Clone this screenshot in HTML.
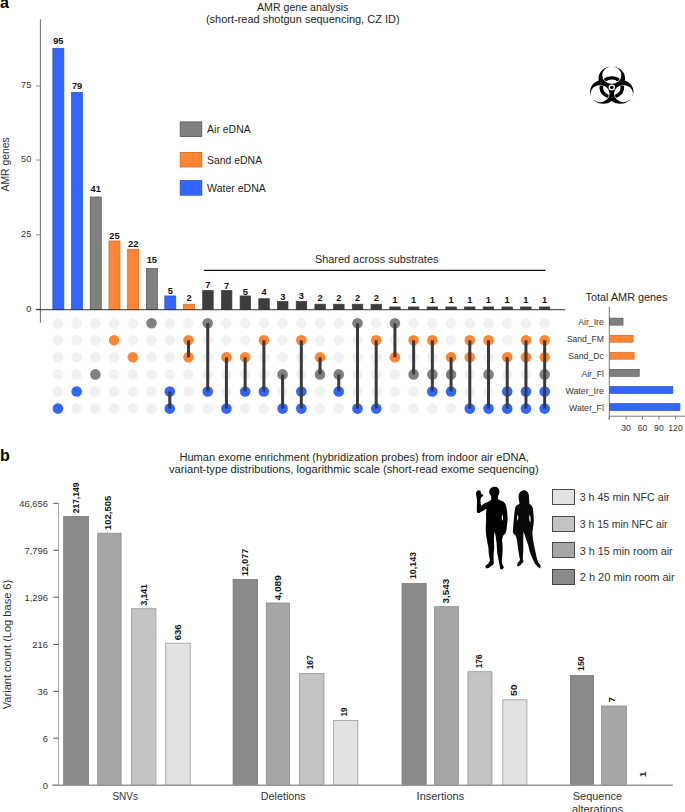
<!DOCTYPE html>
<html><head><meta charset="utf-8"><style>
html,body{margin:0;padding:0;background:#fff;}
svg{display:block;}
text{font-family:"Liberation Sans",sans-serif;}
</style></head><body>
<svg width="685" height="812" viewBox="0 0 685 812" font-family="Liberation Sans, sans-serif">
<rect width="685" height="812" fill="#fff"/>
<text x="0" y="8" font-size="16" text-anchor="start" font-weight="bold" fill="#000" >a</text>
<text x="257.00" y="10.9" font-size="10.6" text-anchor="start" fill="#231f20" textLength="91.4" lengthAdjust="spacingAndGlyphs">AMR gene analysis</text>
<text x="205.90" y="23" font-size="10.9" text-anchor="start" fill="#231f20" textLength="193.7" lengthAdjust="spacingAndGlyphs">(short-read shotgun sequencing, CZ ID)</text>
<line x1="40.40" y1="19.30" x2="40.40" y2="322.80" stroke="#6d6d6d" stroke-width="1"/>
<line x1="36.00" y1="86.00" x2="40.40" y2="86.00" stroke="#9a9a9a" stroke-width="1"/>
<text x="31.3" y="88.3" font-size="9.2" text-anchor="end" fill="#333" >75</text>
<line x1="36.00" y1="160.00" x2="40.40" y2="160.00" stroke="#9a9a9a" stroke-width="1"/>
<text x="31.3" y="162.3" font-size="9.2" text-anchor="end" fill="#333" >50</text>
<line x1="36.00" y1="234.80" x2="40.40" y2="234.80" stroke="#9a9a9a" stroke-width="1"/>
<text x="31.3" y="237.10000000000002" font-size="9.2" text-anchor="end" fill="#333" >25</text>
<line x1="36.00" y1="309.30" x2="40.40" y2="309.30" stroke="#555" stroke-width="1"/>
<text x="31.3" y="311.7" font-size="9.2" text-anchor="end" fill="#333" >0</text>
<text transform="translate(9.2 191.5) rotate(-90)" font-size="10.4" fill="#333" textLength="54.3" lengthAdjust="spacingAndGlyphs">AMR genes</text>
<rect x="52.85" y="48.45" width="11.00" height="261.25" fill="#3366ff" stroke="#2a4fc0" stroke-width="0.7"/>
<text x="58.35" y="44.00" font-size="9.3" text-anchor="middle" font-weight="bold" fill="#111" >95</text>
<rect x="71.55" y="92.45" width="11.00" height="217.25" fill="#3366ff" stroke="#2a4fc0" stroke-width="0.7"/>
<text x="77.05" y="88.80" font-size="9.3" text-anchor="middle" font-weight="bold" fill="#111" >79</text>
<rect x="90.25" y="196.95" width="11.00" height="112.75" fill="#808080" stroke="#555555" stroke-width="0.7"/>
<text x="95.75" y="192.00" font-size="9.3" text-anchor="middle" font-weight="bold" fill="#111" >41</text>
<rect x="108.95" y="240.95" width="11.00" height="68.75" fill="#ff8533" stroke="#c96a2a" stroke-width="0.7"/>
<text x="114.45" y="238.70" font-size="9.3" text-anchor="middle" font-weight="bold" fill="#111" >25</text>
<rect x="127.65" y="249.20" width="11.00" height="60.50" fill="#ff8533" stroke="#c96a2a" stroke-width="0.7"/>
<text x="133.15" y="246.80" font-size="9.3" text-anchor="middle" font-weight="bold" fill="#111" >22</text>
<rect x="146.35" y="268.45" width="11.00" height="41.25" fill="#808080" stroke="#555555" stroke-width="0.7"/>
<text x="151.85" y="262.80" font-size="9.3" text-anchor="middle" font-weight="bold" fill="#111" >15</text>
<rect x="164.80" y="295.95" width="11.00" height="13.75" fill="#3366ff" stroke="#2a4fc0" stroke-width="0.7"/>
<text x="170.30" y="294.00" font-size="9.3" text-anchor="middle" font-weight="bold" fill="#111" >5</text>
<rect x="183.50" y="304.20" width="11.00" height="5.50" fill="#ff8533" stroke="#c96a2a" stroke-width="0.7"/>
<text x="189.00" y="301.00" font-size="9.3" text-anchor="middle" font-weight="bold" fill="#111" >2</text>
<rect x="202.70" y="290.45" width="10.50" height="19.25" fill="#3d3d3d" stroke="#3d3d3d" stroke-width="0.7"/>
<text x="207.95" y="288.10" font-size="9.3" text-anchor="middle" font-weight="bold" fill="#111" >7</text>
<rect x="221.40" y="290.45" width="10.50" height="19.25" fill="#3d3d3d" stroke="#3d3d3d" stroke-width="0.7"/>
<text x="226.65" y="288.80" font-size="9.3" text-anchor="middle" font-weight="bold" fill="#111" >7</text>
<rect x="240.10" y="295.95" width="10.50" height="13.75" fill="#3d3d3d" stroke="#3d3d3d" stroke-width="0.7"/>
<text x="245.35" y="295.10" font-size="9.3" text-anchor="middle" font-weight="bold" fill="#111" >5</text>
<rect x="258.80" y="298.70" width="10.50" height="11.00" fill="#3d3d3d" stroke="#3d3d3d" stroke-width="0.7"/>
<text x="264.05" y="295.10" font-size="9.3" text-anchor="middle" font-weight="bold" fill="#111" >4</text>
<rect x="277.50" y="301.45" width="10.50" height="8.25" fill="#3d3d3d" stroke="#3d3d3d" stroke-width="0.7"/>
<text x="282.75" y="299.90" font-size="9.3" text-anchor="middle" font-weight="bold" fill="#111" >3</text>
<rect x="296.20" y="301.45" width="10.50" height="8.25" fill="#3d3d3d" stroke="#3d3d3d" stroke-width="0.7"/>
<text x="301.45" y="299.30" font-size="9.3" text-anchor="middle" font-weight="bold" fill="#111" >3</text>
<rect x="314.90" y="304.20" width="10.50" height="5.50" fill="#3d3d3d" stroke="#3d3d3d" stroke-width="0.7"/>
<text x="320.15" y="300.80" font-size="9.3" text-anchor="middle" font-weight="bold" fill="#111" >2</text>
<rect x="333.60" y="304.20" width="10.50" height="5.50" fill="#3d3d3d" stroke="#3d3d3d" stroke-width="0.7"/>
<text x="338.85" y="300.80" font-size="9.3" text-anchor="middle" font-weight="bold" fill="#111" >2</text>
<rect x="352.30" y="304.20" width="10.50" height="5.50" fill="#3d3d3d" stroke="#3d3d3d" stroke-width="0.7"/>
<text x="357.55" y="300.80" font-size="9.3" text-anchor="middle" font-weight="bold" fill="#111" >2</text>
<rect x="371.00" y="304.20" width="10.50" height="5.50" fill="#3d3d3d" stroke="#3d3d3d" stroke-width="0.7"/>
<text x="376.25" y="300.80" font-size="9.3" text-anchor="middle" font-weight="bold" fill="#111" >2</text>
<rect x="389.70" y="306.95" width="10.50" height="2.75" fill="#3d3d3d" stroke="#3d3d3d" stroke-width="0.7"/>
<text x="394.95" y="303.40" font-size="9.3" text-anchor="middle" font-weight="bold" fill="#111" >1</text>
<rect x="408.40" y="306.95" width="10.50" height="2.75" fill="#3d3d3d" stroke="#3d3d3d" stroke-width="0.7"/>
<text x="413.65" y="303.40" font-size="9.3" text-anchor="middle" font-weight="bold" fill="#111" >1</text>
<rect x="427.10" y="306.95" width="10.50" height="2.75" fill="#3d3d3d" stroke="#3d3d3d" stroke-width="0.7"/>
<text x="432.35" y="303.40" font-size="9.3" text-anchor="middle" font-weight="bold" fill="#111" >1</text>
<rect x="445.80" y="306.95" width="10.50" height="2.75" fill="#3d3d3d" stroke="#3d3d3d" stroke-width="0.7"/>
<text x="451.05" y="303.40" font-size="9.3" text-anchor="middle" font-weight="bold" fill="#111" >1</text>
<rect x="464.50" y="306.95" width="10.50" height="2.75" fill="#3d3d3d" stroke="#3d3d3d" stroke-width="0.7"/>
<text x="469.75" y="303.40" font-size="9.3" text-anchor="middle" font-weight="bold" fill="#111" >1</text>
<rect x="483.20" y="306.95" width="10.50" height="2.75" fill="#3d3d3d" stroke="#3d3d3d" stroke-width="0.7"/>
<text x="488.45" y="303.40" font-size="9.3" text-anchor="middle" font-weight="bold" fill="#111" >1</text>
<rect x="501.90" y="306.95" width="10.50" height="2.75" fill="#3d3d3d" stroke="#3d3d3d" stroke-width="0.7"/>
<text x="507.15" y="303.40" font-size="9.3" text-anchor="middle" font-weight="bold" fill="#111" >1</text>
<rect x="520.60" y="306.95" width="10.50" height="2.75" fill="#3d3d3d" stroke="#3d3d3d" stroke-width="0.7"/>
<text x="525.85" y="303.40" font-size="9.3" text-anchor="middle" font-weight="bold" fill="#111" >1</text>
<rect x="539.30" y="306.95" width="10.50" height="2.75" fill="#3d3d3d" stroke="#3d3d3d" stroke-width="0.7"/>
<text x="544.55" y="303.40" font-size="9.3" text-anchor="middle" font-weight="bold" fill="#111" >1</text>
<line x1="36.00" y1="309.70" x2="565.30" y2="309.70" stroke="#333" stroke-width="1"/>
<line x1="203.80" y1="270.30" x2="545.50" y2="270.30" stroke="#111" stroke-width="1.3"/>
<text x="315.00" y="262.5" font-size="10.85" text-anchor="start" fill="#231f20" textLength="123.4" lengthAdjust="spacingAndGlyphs">Shared across substrates</text>
<rect x="180.20" y="121.90" width="21.60" height="14.60" fill="#808080" stroke="#555555" stroke-width="0.8"/>
<text x="207.10" y="133.20000000000002" font-size="10.5" text-anchor="start" fill="#231f20" textLength="43.6" lengthAdjust="spacingAndGlyphs">Air eDNA</text>
<rect x="180.20" y="152.40" width="21.60" height="14.60" fill="#ff8533" stroke="#c96a2a" stroke-width="0.8"/>
<text x="207.10" y="163.70000000000002" font-size="10.5" text-anchor="start" fill="#231f20" textLength="55.0" lengthAdjust="spacingAndGlyphs">Sand eDNA</text>
<rect x="180.20" y="180.60" width="21.60" height="14.60" fill="#3366ff" stroke="#2a4fc0" stroke-width="0.8"/>
<text x="207.10" y="191.9" font-size="10.5" text-anchor="start" fill="#231f20" textLength="58.8" lengthAdjust="spacingAndGlyphs">Water eDNA</text>
<circle cx="57.95" cy="323.20" r="5.3" fill="#f1f1f1"/>
<circle cx="57.95" cy="340.30" r="5.3" fill="#f1f1f1"/>
<circle cx="57.95" cy="357.30" r="5.3" fill="#f1f1f1"/>
<circle cx="57.95" cy="374.40" r="5.3" fill="#f1f1f1"/>
<circle cx="57.95" cy="391.50" r="5.3" fill="#f1f1f1"/>
<circle cx="57.95" cy="408.60" r="5.3" fill="#3366ff"/>
<circle cx="76.67" cy="323.20" r="5.3" fill="#f1f1f1"/>
<circle cx="76.67" cy="340.30" r="5.3" fill="#f1f1f1"/>
<circle cx="76.67" cy="357.30" r="5.3" fill="#f1f1f1"/>
<circle cx="76.67" cy="374.40" r="5.3" fill="#f1f1f1"/>
<circle cx="76.67" cy="391.50" r="5.3" fill="#3366ff"/>
<circle cx="76.67" cy="408.60" r="5.3" fill="#f1f1f1"/>
<circle cx="95.39" cy="323.20" r="5.3" fill="#f1f1f1"/>
<circle cx="95.39" cy="340.30" r="5.3" fill="#f1f1f1"/>
<circle cx="95.39" cy="357.30" r="5.3" fill="#f1f1f1"/>
<circle cx="95.39" cy="374.40" r="5.3" fill="#808080"/>
<circle cx="95.39" cy="391.50" r="5.3" fill="#f1f1f1"/>
<circle cx="95.39" cy="408.60" r="5.3" fill="#f1f1f1"/>
<circle cx="114.11" cy="323.20" r="5.3" fill="#f1f1f1"/>
<circle cx="114.11" cy="340.30" r="5.3" fill="#ff8533"/>
<circle cx="114.11" cy="357.30" r="5.3" fill="#f1f1f1"/>
<circle cx="114.11" cy="374.40" r="5.3" fill="#f1f1f1"/>
<circle cx="114.11" cy="391.50" r="5.3" fill="#f1f1f1"/>
<circle cx="114.11" cy="408.60" r="5.3" fill="#f1f1f1"/>
<circle cx="132.83" cy="323.20" r="5.3" fill="#f1f1f1"/>
<circle cx="132.83" cy="340.30" r="5.3" fill="#f1f1f1"/>
<circle cx="132.83" cy="357.30" r="5.3" fill="#ff8533"/>
<circle cx="132.83" cy="374.40" r="5.3" fill="#f1f1f1"/>
<circle cx="132.83" cy="391.50" r="5.3" fill="#f1f1f1"/>
<circle cx="132.83" cy="408.60" r="5.3" fill="#f1f1f1"/>
<circle cx="151.55" cy="323.20" r="5.3" fill="#808080"/>
<circle cx="151.55" cy="340.30" r="5.3" fill="#f1f1f1"/>
<circle cx="151.55" cy="357.30" r="5.3" fill="#f1f1f1"/>
<circle cx="151.55" cy="374.40" r="5.3" fill="#f1f1f1"/>
<circle cx="151.55" cy="391.50" r="5.3" fill="#f1f1f1"/>
<circle cx="151.55" cy="408.60" r="5.3" fill="#f1f1f1"/>
<circle cx="169.77" cy="323.20" r="5.3" fill="#f1f1f1"/>
<circle cx="169.77" cy="340.30" r="5.3" fill="#f1f1f1"/>
<circle cx="169.77" cy="357.30" r="5.3" fill="#f1f1f1"/>
<circle cx="169.77" cy="374.40" r="5.3" fill="#f1f1f1"/>
<circle cx="169.77" cy="391.50" r="5.3" fill="#3366ff"/>
<circle cx="169.77" cy="408.60" r="5.3" fill="#3366ff"/>
<line x1="169.77" y1="391.50" x2="169.77" y2="408.60" stroke="#3a3a3a" stroke-width="3"/>
<circle cx="188.49" cy="323.20" r="5.3" fill="#f1f1f1"/>
<circle cx="188.49" cy="340.30" r="5.3" fill="#ff8533"/>
<circle cx="188.49" cy="357.30" r="5.3" fill="#ff8533"/>
<circle cx="188.49" cy="374.40" r="5.3" fill="#f1f1f1"/>
<circle cx="188.49" cy="391.50" r="5.3" fill="#f1f1f1"/>
<circle cx="188.49" cy="408.60" r="5.3" fill="#f1f1f1"/>
<line x1="188.49" y1="340.30" x2="188.49" y2="357.30" stroke="#3a3a3a" stroke-width="3"/>
<circle cx="207.71" cy="323.20" r="5.3" fill="#808080"/>
<circle cx="207.71" cy="340.30" r="5.3" fill="#f1f1f1"/>
<circle cx="207.71" cy="357.30" r="5.3" fill="#f1f1f1"/>
<circle cx="207.71" cy="374.40" r="5.3" fill="#f1f1f1"/>
<circle cx="207.71" cy="391.50" r="5.3" fill="#3366ff"/>
<circle cx="207.71" cy="408.60" r="5.3" fill="#f1f1f1"/>
<line x1="207.71" y1="323.20" x2="207.71" y2="391.50" stroke="#3a3a3a" stroke-width="3"/>
<circle cx="226.43" cy="323.20" r="5.3" fill="#f1f1f1"/>
<circle cx="226.43" cy="340.30" r="5.3" fill="#f1f1f1"/>
<circle cx="226.43" cy="357.30" r="5.3" fill="#ff8533"/>
<circle cx="226.43" cy="374.40" r="5.3" fill="#f1f1f1"/>
<circle cx="226.43" cy="391.50" r="5.3" fill="#f1f1f1"/>
<circle cx="226.43" cy="408.60" r="5.3" fill="#3366ff"/>
<line x1="226.43" y1="357.30" x2="226.43" y2="408.60" stroke="#3a3a3a" stroke-width="3"/>
<circle cx="245.15" cy="323.20" r="5.3" fill="#f1f1f1"/>
<circle cx="245.15" cy="340.30" r="5.3" fill="#f1f1f1"/>
<circle cx="245.15" cy="357.30" r="5.3" fill="#ff8533"/>
<circle cx="245.15" cy="374.40" r="5.3" fill="#f1f1f1"/>
<circle cx="245.15" cy="391.50" r="5.3" fill="#3366ff"/>
<circle cx="245.15" cy="408.60" r="5.3" fill="#f1f1f1"/>
<line x1="245.15" y1="357.30" x2="245.15" y2="391.50" stroke="#3a3a3a" stroke-width="3"/>
<circle cx="263.87" cy="323.20" r="5.3" fill="#f1f1f1"/>
<circle cx="263.87" cy="340.30" r="5.3" fill="#ff8533"/>
<circle cx="263.87" cy="357.30" r="5.3" fill="#f1f1f1"/>
<circle cx="263.87" cy="374.40" r="5.3" fill="#f1f1f1"/>
<circle cx="263.87" cy="391.50" r="5.3" fill="#3366ff"/>
<circle cx="263.87" cy="408.60" r="5.3" fill="#f1f1f1"/>
<line x1="263.87" y1="340.30" x2="263.87" y2="391.50" stroke="#3a3a3a" stroke-width="3"/>
<circle cx="282.59" cy="323.20" r="5.3" fill="#f1f1f1"/>
<circle cx="282.59" cy="340.30" r="5.3" fill="#f1f1f1"/>
<circle cx="282.59" cy="357.30" r="5.3" fill="#f1f1f1"/>
<circle cx="282.59" cy="374.40" r="5.3" fill="#808080"/>
<circle cx="282.59" cy="391.50" r="5.3" fill="#f1f1f1"/>
<circle cx="282.59" cy="408.60" r="5.3" fill="#3366ff"/>
<line x1="282.59" y1="374.40" x2="282.59" y2="408.60" stroke="#3a3a3a" stroke-width="3"/>
<circle cx="301.31" cy="323.20" r="5.3" fill="#f1f1f1"/>
<circle cx="301.31" cy="340.30" r="5.3" fill="#ff8533"/>
<circle cx="301.31" cy="357.30" r="5.3" fill="#f1f1f1"/>
<circle cx="301.31" cy="374.40" r="5.3" fill="#f1f1f1"/>
<circle cx="301.31" cy="391.50" r="5.3" fill="#3366ff"/>
<circle cx="301.31" cy="408.60" r="5.3" fill="#3366ff"/>
<line x1="301.31" y1="340.30" x2="301.31" y2="408.60" stroke="#3a3a3a" stroke-width="3"/>
<circle cx="320.03" cy="323.20" r="5.3" fill="#f1f1f1"/>
<circle cx="320.03" cy="340.30" r="5.3" fill="#f1f1f1"/>
<circle cx="320.03" cy="357.30" r="5.3" fill="#ff8533"/>
<circle cx="320.03" cy="374.40" r="5.3" fill="#808080"/>
<circle cx="320.03" cy="391.50" r="5.3" fill="#f1f1f1"/>
<circle cx="320.03" cy="408.60" r="5.3" fill="#f1f1f1"/>
<line x1="320.03" y1="357.30" x2="320.03" y2="374.40" stroke="#3a3a3a" stroke-width="3"/>
<circle cx="338.75" cy="323.20" r="5.3" fill="#f1f1f1"/>
<circle cx="338.75" cy="340.30" r="5.3" fill="#f1f1f1"/>
<circle cx="338.75" cy="357.30" r="5.3" fill="#f1f1f1"/>
<circle cx="338.75" cy="374.40" r="5.3" fill="#808080"/>
<circle cx="338.75" cy="391.50" r="5.3" fill="#3366ff"/>
<circle cx="338.75" cy="408.60" r="5.3" fill="#f1f1f1"/>
<line x1="338.75" y1="374.40" x2="338.75" y2="391.50" stroke="#3a3a3a" stroke-width="3"/>
<circle cx="357.47" cy="323.20" r="5.3" fill="#808080"/>
<circle cx="357.47" cy="340.30" r="5.3" fill="#f1f1f1"/>
<circle cx="357.47" cy="357.30" r="5.3" fill="#f1f1f1"/>
<circle cx="357.47" cy="374.40" r="5.3" fill="#f1f1f1"/>
<circle cx="357.47" cy="391.50" r="5.3" fill="#f1f1f1"/>
<circle cx="357.47" cy="408.60" r="5.3" fill="#3366ff"/>
<line x1="357.47" y1="323.20" x2="357.47" y2="408.60" stroke="#3a3a3a" stroke-width="3"/>
<circle cx="376.19" cy="323.20" r="5.3" fill="#f1f1f1"/>
<circle cx="376.19" cy="340.30" r="5.3" fill="#ff8533"/>
<circle cx="376.19" cy="357.30" r="5.3" fill="#f1f1f1"/>
<circle cx="376.19" cy="374.40" r="5.3" fill="#f1f1f1"/>
<circle cx="376.19" cy="391.50" r="5.3" fill="#f1f1f1"/>
<circle cx="376.19" cy="408.60" r="5.3" fill="#3366ff"/>
<line x1="376.19" y1="340.30" x2="376.19" y2="408.60" stroke="#3a3a3a" stroke-width="3"/>
<circle cx="394.91" cy="323.20" r="5.3" fill="#808080"/>
<circle cx="394.91" cy="340.30" r="5.3" fill="#f1f1f1"/>
<circle cx="394.91" cy="357.30" r="5.3" fill="#ff8533"/>
<circle cx="394.91" cy="374.40" r="5.3" fill="#f1f1f1"/>
<circle cx="394.91" cy="391.50" r="5.3" fill="#f1f1f1"/>
<circle cx="394.91" cy="408.60" r="5.3" fill="#f1f1f1"/>
<line x1="394.91" y1="323.20" x2="394.91" y2="357.30" stroke="#3a3a3a" stroke-width="3"/>
<circle cx="413.63" cy="323.20" r="5.3" fill="#f1f1f1"/>
<circle cx="413.63" cy="340.30" r="5.3" fill="#ff8533"/>
<circle cx="413.63" cy="357.30" r="5.3" fill="#f1f1f1"/>
<circle cx="413.63" cy="374.40" r="5.3" fill="#808080"/>
<circle cx="413.63" cy="391.50" r="5.3" fill="#f1f1f1"/>
<circle cx="413.63" cy="408.60" r="5.3" fill="#f1f1f1"/>
<line x1="413.63" y1="340.30" x2="413.63" y2="374.40" stroke="#3a3a3a" stroke-width="3"/>
<circle cx="432.35" cy="323.20" r="5.3" fill="#f1f1f1"/>
<circle cx="432.35" cy="340.30" r="5.3" fill="#ff8533"/>
<circle cx="432.35" cy="357.30" r="5.3" fill="#f1f1f1"/>
<circle cx="432.35" cy="374.40" r="5.3" fill="#808080"/>
<circle cx="432.35" cy="391.50" r="5.3" fill="#3366ff"/>
<circle cx="432.35" cy="408.60" r="5.3" fill="#f1f1f1"/>
<line x1="432.35" y1="340.30" x2="432.35" y2="391.50" stroke="#3a3a3a" stroke-width="3"/>
<circle cx="451.07" cy="323.20" r="5.3" fill="#f1f1f1"/>
<circle cx="451.07" cy="340.30" r="5.3" fill="#f1f1f1"/>
<circle cx="451.07" cy="357.30" r="5.3" fill="#ff8533"/>
<circle cx="451.07" cy="374.40" r="5.3" fill="#808080"/>
<circle cx="451.07" cy="391.50" r="5.3" fill="#3366ff"/>
<circle cx="451.07" cy="408.60" r="5.3" fill="#f1f1f1"/>
<line x1="451.07" y1="357.30" x2="451.07" y2="391.50" stroke="#3a3a3a" stroke-width="3"/>
<circle cx="469.79" cy="323.20" r="5.3" fill="#f1f1f1"/>
<circle cx="469.79" cy="340.30" r="5.3" fill="#ff8533"/>
<circle cx="469.79" cy="357.30" r="5.3" fill="#ff8533"/>
<circle cx="469.79" cy="374.40" r="5.3" fill="#f1f1f1"/>
<circle cx="469.79" cy="391.50" r="5.3" fill="#f1f1f1"/>
<circle cx="469.79" cy="408.60" r="5.3" fill="#3366ff"/>
<line x1="469.79" y1="340.30" x2="469.79" y2="408.60" stroke="#3a3a3a" stroke-width="3"/>
<circle cx="488.51" cy="323.20" r="5.3" fill="#f1f1f1"/>
<circle cx="488.51" cy="340.30" r="5.3" fill="#ff8533"/>
<circle cx="488.51" cy="357.30" r="5.3" fill="#f1f1f1"/>
<circle cx="488.51" cy="374.40" r="5.3" fill="#808080"/>
<circle cx="488.51" cy="391.50" r="5.3" fill="#f1f1f1"/>
<circle cx="488.51" cy="408.60" r="5.3" fill="#3366ff"/>
<line x1="488.51" y1="340.30" x2="488.51" y2="408.60" stroke="#3a3a3a" stroke-width="3"/>
<circle cx="507.23" cy="323.20" r="5.3" fill="#f1f1f1"/>
<circle cx="507.23" cy="340.30" r="5.3" fill="#f1f1f1"/>
<circle cx="507.23" cy="357.30" r="5.3" fill="#ff8533"/>
<circle cx="507.23" cy="374.40" r="5.3" fill="#f1f1f1"/>
<circle cx="507.23" cy="391.50" r="5.3" fill="#3366ff"/>
<circle cx="507.23" cy="408.60" r="5.3" fill="#3366ff"/>
<line x1="507.23" y1="357.30" x2="507.23" y2="408.60" stroke="#3a3a3a" stroke-width="3"/>
<circle cx="525.95" cy="323.20" r="5.3" fill="#f1f1f1"/>
<circle cx="525.95" cy="340.30" r="5.3" fill="#ff8533"/>
<circle cx="525.95" cy="357.30" r="5.3" fill="#ff8533"/>
<circle cx="525.95" cy="374.40" r="5.3" fill="#f1f1f1"/>
<circle cx="525.95" cy="391.50" r="5.3" fill="#3366ff"/>
<circle cx="525.95" cy="408.60" r="5.3" fill="#3366ff"/>
<line x1="525.95" y1="340.30" x2="525.95" y2="408.60" stroke="#3a3a3a" stroke-width="3"/>
<circle cx="544.67" cy="323.20" r="5.3" fill="#f1f1f1"/>
<circle cx="544.67" cy="340.30" r="5.3" fill="#ff8533"/>
<circle cx="544.67" cy="357.30" r="5.3" fill="#ff8533"/>
<circle cx="544.67" cy="374.40" r="5.3" fill="#808080"/>
<circle cx="544.67" cy="391.50" r="5.3" fill="#3366ff"/>
<circle cx="544.67" cy="408.60" r="5.3" fill="#3366ff"/>
<line x1="544.67" y1="340.30" x2="544.67" y2="408.60" stroke="#3a3a3a" stroke-width="3"/>
<text x="585.60" y="301.2" font-size="10.7" text-anchor="start" fill="#231f20" textLength="81.9" lengthAdjust="spacingAndGlyphs">Total AMR genes</text>
<line x1="609.30" y1="306.90" x2="609.30" y2="419.50" stroke="#777" stroke-width="1"/>
<line x1="609.30" y1="416.20" x2="685.00" y2="416.20" stroke="#777" stroke-width="1"/>
<line x1="626.10" y1="416.20" x2="626.10" y2="419.50" stroke="#777" stroke-width="1"/>
<text x="626.1" y="431.4" font-size="8.6" text-anchor="middle" fill="#333" >30</text>
<line x1="642.50" y1="416.20" x2="642.50" y2="419.50" stroke="#777" stroke-width="1"/>
<text x="642.5" y="431.4" font-size="8.6" text-anchor="middle" fill="#333" >60</text>
<line x1="658.90" y1="416.20" x2="658.90" y2="419.50" stroke="#777" stroke-width="1"/>
<text x="658.9" y="431.4" font-size="8.6" text-anchor="middle" fill="#333" >90</text>
<line x1="675.50" y1="416.20" x2="675.50" y2="419.50" stroke="#777" stroke-width="1"/>
<text x="675.5" y="431.4" font-size="8.6" text-anchor="middle" fill="#333" >120</text>
<line x1="609.30" y1="416.20" x2="609.30" y2="419.50" stroke="#777" stroke-width="1"/>
<rect x="609.80" y="318.20" width="13.20" height="6.90" fill="#808080" stroke="#555555" stroke-width="0.7"/>
<text x="578.30" y="325.30" font-size="9.0" text-anchor="start" fill="#333" textLength="25.5" lengthAdjust="spacingAndGlyphs">Air_Ire</text>
<rect x="609.80" y="335.30" width="23.20" height="6.90" fill="#ff8533" stroke="#c96a2a" stroke-width="0.7"/>
<text x="566.90" y="342.40" font-size="9.0" text-anchor="start" fill="#333" textLength="36.9" lengthAdjust="spacingAndGlyphs">Sand_FM</text>
<rect x="609.80" y="352.30" width="24.30" height="6.90" fill="#ff8533" stroke="#c96a2a" stroke-width="0.7"/>
<text x="568.20" y="359.40" font-size="9.0" text-anchor="start" fill="#333" textLength="35.6" lengthAdjust="spacingAndGlyphs">Sand_Dc</text>
<rect x="609.80" y="369.40" width="29.40" height="6.90" fill="#808080" stroke="#555555" stroke-width="0.7"/>
<text x="581.50" y="376.50" font-size="9.0" text-anchor="start" fill="#333" textLength="22.3" lengthAdjust="spacingAndGlyphs">Air_Fl</text>
<rect x="609.80" y="386.50" width="63.00" height="6.90" fill="#3366ff" stroke="#2a4fc0" stroke-width="0.7"/>
<text x="565.50" y="393.60" font-size="9.0" text-anchor="start" fill="#333" textLength="38.3" lengthAdjust="spacingAndGlyphs">Water_Ire</text>
<rect x="609.80" y="403.60" width="70.10" height="6.90" fill="#3366ff" stroke="#2a4fc0" stroke-width="0.7"/>
<text x="569.10" y="410.70" font-size="9.0" text-anchor="start" fill="#333" textLength="34.7" lengthAdjust="spacingAndGlyphs">Water_Fl</text>
<g transform="translate(611.8 87.4) scale(0.885 0.8)">
<defs><clipPath id="ic">
<circle cx="0.000" cy="-15.000" r="9.8"/>
<circle cx="12.990" cy="7.500" r="9.8"/>
<circle cx="-12.990" cy="7.500" r="9.8"/>
</clipPath></defs>
<circle cx="0.000" cy="-11.000" r="15" fill="#000"/>
<circle cx="9.526" cy="5.500" r="15" fill="#000"/>
<circle cx="-9.526" cy="5.500" r="15" fill="#000"/>
<circle cx="0.000" cy="-15.300" r="10.77" fill="#fff"/>
<circle cx="13.250" cy="7.650" r="10.77" fill="#fff"/>
<circle cx="-13.250" cy="7.650" r="10.77" fill="#fff"/>
<circle cx="0" cy="0" r="11.9" fill="none" stroke="#000" stroke-width="4" clip-path="url(#ic)"/>
<rect x="-2.4" y="-28" width="4.8" height="5.5" fill="#fff" transform="rotate(0)"/>
<rect x="-2.4" y="-28" width="4.8" height="5.5" fill="#fff" transform="rotate(120)"/>
<rect x="-2.4" y="-28" width="4.8" height="5.5" fill="#fff" transform="rotate(240)"/>
<circle cx="0" cy="0" r="3.6" fill="#fff"/>
<circle cx="0" cy="0" r="2.1" fill="#000"/>
</g>
<text x="0" y="460.7" font-size="16" text-anchor="start" font-weight="bold" fill="#000" >b</text>
<text x="179.40" y="460.8" font-size="11.05" text-anchor="start" fill="#231f20" textLength="349.5" lengthAdjust="spacingAndGlyphs">Human exome enrichment (hybridization probes) from indoor air eDNA,</text>
<text x="168.90" y="472.6" font-size="11.18" text-anchor="start" fill="#231f20" textLength="369.8" lengthAdjust="spacingAndGlyphs">variant-type distributions, logarithmic scale (short-read exome sequencing)</text>
<line x1="58.50" y1="503.30" x2="58.50" y2="785.30" stroke="#a8a8a8" stroke-width="1"/>
<line x1="53.20" y1="503.30" x2="58.50" y2="503.30" stroke="#555" stroke-width="1"/>
<text x="47.9" y="507.0" font-size="9.4" text-anchor="end" fill="#333" >46,656</text>
<line x1="53.20" y1="550.30" x2="58.50" y2="550.30" stroke="#555" stroke-width="1"/>
<text x="47.9" y="554.0" font-size="9.4" text-anchor="end" fill="#333" >7,796</text>
<line x1="53.20" y1="597.20" x2="58.50" y2="597.20" stroke="#555" stroke-width="1"/>
<text x="47.9" y="600.9000000000001" font-size="9.4" text-anchor="end" fill="#333" >1,296</text>
<line x1="53.20" y1="644.50" x2="58.50" y2="644.50" stroke="#555" stroke-width="1"/>
<text x="47.9" y="648.2" font-size="9.4" text-anchor="end" fill="#333" >216</text>
<line x1="53.20" y1="691.30" x2="58.50" y2="691.30" stroke="#555" stroke-width="1"/>
<text x="47.9" y="695.0" font-size="9.4" text-anchor="end" fill="#333" >36</text>
<line x1="53.20" y1="738.20" x2="58.50" y2="738.20" stroke="#555" stroke-width="1"/>
<text x="47.9" y="741.9000000000001" font-size="9.4" text-anchor="end" fill="#333" >6</text>
<line x1="53.20" y1="785.20" x2="58.50" y2="785.20" stroke="#555" stroke-width="1"/>
<text x="47.9" y="788.9000000000001" font-size="9.4" text-anchor="end" fill="#333" >0</text>
<text transform="translate(11.3 709.2) rotate(-90)" font-size="11" fill="#333" textLength="129.4" lengthAdjust="spacingAndGlyphs">Variant count (Log base 6)</text>
<rect x="63.70" y="516.50" width="24.90" height="268.70" fill="#8a8a8a" stroke="#777777" stroke-width="0.8"/>
<text transform="translate(79.00 513.30) rotate(-90)" font-size="9.8" font-weight="bold" fill="#111" textLength="30.7" lengthAdjust="spacingAndGlyphs">217,149</text>
<rect x="97.70" y="533.20" width="23.40" height="252.00" fill="#a6a6a6" stroke="#8c8c8c" stroke-width="0.8"/>
<text transform="translate(111.40 530.00) rotate(-90)" font-size="9.8" font-weight="bold" fill="#111" textLength="34.2" lengthAdjust="spacingAndGlyphs">102,505</text>
<rect x="131.40" y="608.70" width="24.50" height="176.50" fill="#c4c4c4" stroke="#9a9a9a" stroke-width="0.8"/>
<text transform="translate(146.50 605.60) rotate(-90)" font-size="9.8" font-weight="bold" fill="#111" textLength="21.3" lengthAdjust="spacingAndGlyphs">3,141</text>
<rect x="165.70" y="643.20" width="24.50" height="142.00" fill="#e2e2e2" stroke="#9a9a9a" stroke-width="0.8"/>
<text transform="translate(180.60 640.30) rotate(-90)" font-size="9.8" font-weight="bold" fill="#111" textLength="16" lengthAdjust="spacingAndGlyphs">636</text>
<rect x="233.10" y="579.40" width="24.50" height="205.80" fill="#8a8a8a" stroke="#777777" stroke-width="0.8"/>
<text transform="translate(247.50 576.10) rotate(-90)" font-size="9.8" font-weight="bold" fill="#111" textLength="27.2" lengthAdjust="spacingAndGlyphs">12,077</text>
<rect x="266.30" y="603.00" width="23.30" height="182.20" fill="#a6a6a6" stroke="#8c8c8c" stroke-width="0.8"/>
<text transform="translate(280.60 600.60) rotate(-90)" font-size="9.8" font-weight="bold" fill="#111" textLength="25.6" lengthAdjust="spacingAndGlyphs">4,089</text>
<rect x="299.50" y="673.40" width="24.50" height="111.80" fill="#c4c4c4" stroke="#9a9a9a" stroke-width="0.8"/>
<text transform="translate(313.40 669.30) rotate(-90)" font-size="9.8" font-weight="bold" fill="#111" textLength="14" lengthAdjust="spacingAndGlyphs">167</text>
<rect x="333.50" y="720.60" width="24.40" height="64.60" fill="#e2e2e2" stroke="#9a9a9a" stroke-width="0.8"/>
<text transform="translate(347.00 716.40) rotate(-90)" font-size="9.8" font-weight="bold" fill="#111" textLength="9" lengthAdjust="spacingAndGlyphs">19</text>
<rect x="402.00" y="583.60" width="24.20" height="201.60" fill="#8a8a8a" stroke="#777777" stroke-width="0.8"/>
<text transform="translate(416.00 579.10) rotate(-90)" font-size="9.8" font-weight="bold" fill="#111" textLength="27.1" lengthAdjust="spacingAndGlyphs">10,143</text>
<rect x="434.60" y="606.70" width="23.80" height="178.50" fill="#a6a6a6" stroke="#8c8c8c" stroke-width="0.8"/>
<text transform="translate(448.50 603.40) rotate(-90)" font-size="9.8" font-weight="bold" fill="#111" textLength="24.6" lengthAdjust="spacingAndGlyphs">3,543</text>
<rect x="467.90" y="671.70" width="24.10" height="113.50" fill="#c4c4c4" stroke="#9a9a9a" stroke-width="0.8"/>
<text transform="translate(482.00 668.30) rotate(-90)" font-size="9.8" font-weight="bold" fill="#111" textLength="14" lengthAdjust="spacingAndGlyphs">176</text>
<rect x="502.80" y="699.80" width="24.10" height="85.40" fill="#e2e2e2" stroke="#9a9a9a" stroke-width="0.8"/>
<text transform="translate(516.60 696.10) rotate(-90)" font-size="9.8" font-weight="bold" fill="#111" textLength="11.7" lengthAdjust="spacingAndGlyphs">50</text>
<rect x="570.40" y="675.40" width="23.20" height="109.80" fill="#8a8a8a" stroke="#777777" stroke-width="0.8"/>
<text transform="translate(583.80 671.00) rotate(-90)" font-size="9.8" font-weight="bold" fill="#111" textLength="14.8" lengthAdjust="spacingAndGlyphs">150</text>
<rect x="601.50" y="706.00" width="25.10" height="79.20" fill="#a6a6a6" stroke="#8c8c8c" stroke-width="0.8"/>
<text transform="translate(614.90 702.40) rotate(-90)" font-size="9.8" font-weight="bold" fill="#111">7</text>
<text transform="translate(645.8 777) rotate(-90)" font-size="9.8" font-weight="bold" fill="#111">1</text>
<line x1="52.00" y1="785.20" x2="672.70" y2="785.20" stroke="#999" stroke-width="1.4"/>
<text x="112.40" y="799.7" font-size="10.4" text-anchor="start" fill="#333" textLength="25.7" lengthAdjust="spacingAndGlyphs">SNVs</text>
<text x="260.70" y="799.9" font-size="10.4" text-anchor="start" fill="#333" textLength="45" lengthAdjust="spacingAndGlyphs">Deletions</text>
<text x="416.60" y="799.9" font-size="10.4" text-anchor="start" fill="#333" textLength="47.6" lengthAdjust="spacingAndGlyphs">Insertions</text>
<text x="572.80" y="799.8" font-size="10.4" text-anchor="start" fill="#333" textLength="49.3" lengthAdjust="spacingAndGlyphs">Sequence</text>
<text x="571.90" y="813.4" font-size="10.4" text-anchor="start" fill="#333" textLength="51.2" lengthAdjust="spacingAndGlyphs">alterations</text>
<rect x="552.50" y="489.50" width="22.00" height="15.00" fill="#e2e2e2" stroke="#4a4a4a" stroke-width="1"/>
<text x="579.7" y="500.8" font-size="10.6" text-anchor="start" fill="#333" textLength="89.9" lengthAdjust="spacingAndGlyphs">3 h 45 min NFC air</text>
<rect x="552.50" y="516.50" width="22.00" height="15.00" fill="#c4c4c4" stroke="#4a4a4a" stroke-width="1"/>
<text x="579.7" y="528.4000000000001" font-size="10.6" text-anchor="start" fill="#333" textLength="87.9" lengthAdjust="spacingAndGlyphs">3 h 15 min NFC air</text>
<rect x="552.50" y="542.50" width="22.00" height="15.00" fill="#a6a6a6" stroke="#4a4a4a" stroke-width="1"/>
<text x="579.7" y="554.5" font-size="10.6" text-anchor="start" fill="#333" textLength="93" lengthAdjust="spacingAndGlyphs">3 h 15 min room air</text>
<rect x="552.50" y="569.50" width="22.00" height="15.00" fill="#8a8a8a" stroke="#444" stroke-width="1"/>
<text x="579.7" y="581.1" font-size="10.6" text-anchor="start" fill="#333" textLength="95" lengthAdjust="spacingAndGlyphs">2 h 20 min room air</text>
<g id="people"><path fill="#000" d="M494.8,486.8 C497.5,486.8 499.6,488.8 499.5,491.3 C499.4,493.5 498.4,495.2 497.8,497 L498.3,499.6 C500.6,500.4 503.4,501.3 504.9,503.2 C506.3,505.6 506.8,509 507.2,512.5 C507.7,517 507.7,521 507.1,524.5 L506.4,530 C506,532.5 505.3,534 504.5,534.2 L503.6,535 C502.2,537.5 501.9,539.5 502.2,542 C502.8,546 502.8,550 502.4,554.2 C502.1,557.5 501.8,560.5 501.9,563 L503.9,567.4 L502.5,569.5 L500.2,569 L499.3,563.5 C498.6,561 498.4,559.5 498.2,557.7 C497.6,555 497.2,553 497.1,551.3 C496.9,548 496.8,545 496.5,542.5 C496,538.5 495.5,535 494.7,531.5 C494.2,534.5 493.9,537 493.9,539.6 C494,543 494.3,546 494.2,548.4 C494,551 493.6,553 493.6,555 L493.6,561.5 L493.8,564 L489,567.7 L486.1,568.6 L485.3,566 L488.4,563.5 L490,560.3 C489.5,558 489,556 488.9,554.2 C488.6,551.5 488.5,549.5 488.4,547.2 C487.8,544.5 487.2,542 486.9,539.6 C486.3,536.5 485.8,533.5 485.7,530.8 L485.8,525 C486.2,522 486.1,518 486,515.1 L486.4,508.8 C484.6,509.8 482,511.5 479.3,512.9 L477.5,513 L476.8,511.3 C476.8,508 477,503.5 477,500.5 L476.5,497 L476,494 L476.2,492 L477.3,490.8 L479,490.3 L480.3,490.6 L480.9,492.5 L481.2,494.1 L482.6,494.4 L483.5,494.9 L482.8,495.9 L481.4,497.3 L480.6,499.2 C480.3,501.5 480.6,504 481.2,505.8 C482.2,505 483.2,504 484.3,503.4 C485.5,502.7 486.5,502.4 487.3,502.2 C489,501.6 490.5,500.5 491.3,499.5 L491.3,496.5 C490.2,495 489.3,493.3 489.2,491.8 C489.2,489 491.5,486.8 494.8,486.8 Z"/><path fill="#0a0a0a" d="M524.1,490.2 C526,490.3 527.8,491.8 528.6,494 C529.2,496.5 529.1,500 529.4,503.8 L531.3,505.4 C532.5,506.3 533,508 533.2,511 C533.6,515 534,519 533.7,522.5 C533.4,526 532.8,529 532.6,531 L532.4,533 C532.6,536 533,539 533.6,543 C534.3,547 535.5,551 536.3,556 C537,559 537.8,561.5 538.6,563 L540.7,565.5 L540.1,568.6 L538,567 L534.6,563.6 C533.5,560.5 532.2,557.5 530.5,554 C529,550 528.8,546 527.5,543 C526,539.5 524.8,535 523.6,531.5 C523.2,536 523.2,542 523.3,548 C523.2,553 522.9,556.5 522.8,559.3 L523.6,561.5 L520.5,565 L518.5,566.6 L517.2,566 L517.4,563.2 L520,560 C519.4,556.5 518.6,552 517.9,548 C517.6,544 517,540 516.1,536.8 L515.3,535 L514.2,534.6 L513,532.5 L512.9,530.5 C513.2,526 513.5,522 513.9,518.5 C514.3,514 514.7,510 515.3,507.5 C515.8,506 516.8,505.2 518.2,504.6 L519.6,503.8 C519,501 518.4,498 518.6,495.5 C519,492.5 521.5,490.2 524.1,490.2 Z"/><path fill="#fff" d="M502.4,514.5 C503.2,516.5 503.2,519 502.6,521 C501.6,519 501.6,516.5 502.4,514.5 Z M517.6,514.5 C518.6,516.5 518.6,518.8 517.2,521 C517,519 517,516.5 517.6,514.5 Z M529.8,514.8 C530.7,517 530.8,520.5 530.2,522.6 C529,520.5 528.8,517.5 529.8,514.8 Z"/></g>
</svg>
</body></html>
